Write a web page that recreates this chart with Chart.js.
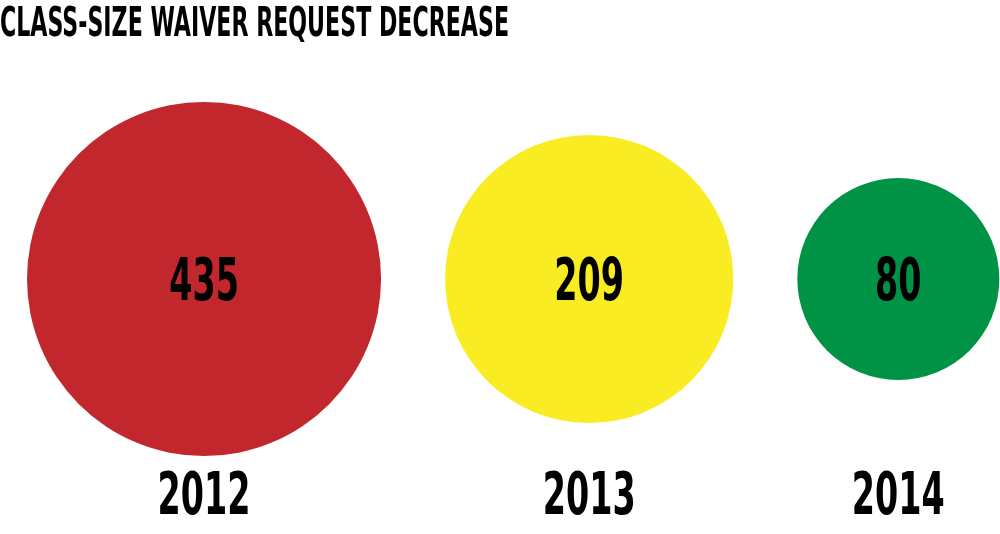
<!DOCTYPE html>
<html>
<head>
<meta charset="utf-8">
<script src="https://cdn.jsdelivr.net/npm/chart.js@4/dist/chart.umd.min.js"></script>
<style>
  html, body { margin: 0; padding: 0; background: #fff; }
  #wrap { width: 1000px; height: 534px; }
</style>
</head>
<body>
<div id="wrap"><canvas id="chartCanvas"></canvas></div>
<script>
// data
const years = ['2012', '2013', '2014'];
const requests = [435, 209, 80];
const colors = ['#C1272D', '#F9EC23', '#009245'];
const titleText = 'CLASS-SIZE WAIVER REQUEST DECREASE';

// bubble sizing (log scale in pixels) and packing
const R_MIN = 101;
const R_LOG = 44.9;
const LEFT = 27;
const GAP = 64;
const FONT = '"DejaVu Sans Condensed", "Liberation Sans Narrow", sans-serif';

const minVal = Math.min(...requests);
const radii = requests.map(v => R_MIN + R_LOG * Math.log(v / minVal));
let cursor = LEFT;
const xs = radii.map(r => {
  const x = cursor + r;
  cursor += 2 * r + GAP;
  return x;
});

const points = requests.map((v, i) => ({ x: xs[i], y: 0, r: radii[i], v: v }));

// draw condensed text
function drawText(ctx, text, x, y, size, squeeze, align) {
  ctx.save();
  ctx.font = 'bold ' + size + 'px ' + FONT;
  ctx.fillStyle = '#000';
  ctx.textBaseline = 'alphabetic';
  const w = ctx.measureText(text).width * squeeze;
  let left = x;
  if (align === 'center') left = x - w / 2;
  ctx.translate(left, y);
  ctx.scale(squeeze, 1);
  ctx.textAlign = 'left';
  ctx.fillText(text, 0, 0);
  ctx.restore();
}

const textLabels = {
  id: 'textLabels',
  afterDatasetsDraw(chart) {
    const ctx = chart.ctx;
    const xScale = chart.scales.x;
    const yScale = chart.scales.y;
    drawText(ctx, titleText, 0, 36, 40, 0.615, 'left');
    points.forEach((p, i) => {
      const cx = xScale.getPixelForValue(p.x);
      const cy = yScale.getPixelForValue(p.y);
      drawText(ctx, String(p.v), cx, cy + 21, 58, 0.64, 'center');
      drawText(ctx, years[i], cx, 514, 58, 0.64, 'center');
    });
  }
};

const chartCanvas = document.getElementById('chartCanvas');
const myChart = new Chart(chartCanvas, {
  type: 'bubble',
  data: {
    datasets: [
      {
        label: 'Waiver requests',
        data: points,
        backgroundColor: colors,
        borderWidth: 0,
        hoverBorderWidth: 0,
        clip: false
      }
    ]
  },
  options: {
    responsive: true,
    maintainAspectRatio: false,
    animation: false,
    layout: { autoPadding: false, padding: { top: 24, left: 0, right: 0, bottom: 0 } },
    plugins: {
      legend: { display: false },
      tooltip: { enabled: false },
      title: { display: false }
    },
    scales: {
      x: { type: 'linear', min: 0, max: 1000, display: false },
      y: { type: 'linear', min: -1, max: 1, display: false }
    }
  },
  plugins: [textLabels]
});
</script>
</body>
</html>
